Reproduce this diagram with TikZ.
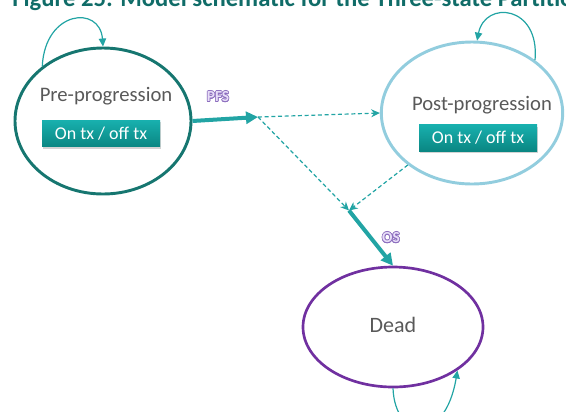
\documentclass[tikz,border=0pt]{standalone}
\usepackage{fontspec}
\setmainfont{Carlito}
\usepackage{contour}
\usetikzlibrary{arrows.meta,shapes.geometric,shadows}

\definecolor{titleteal}{RGB}{16,108,104}
\definecolor{flowteal}{RGB}{34,164,164}
\definecolor{preline}{RGB}{22,118,112}
\definecolor{postline}{RGB}{146,205,222}
\definecolor{deadline}{RGB}{112,48,160}
\definecolor{labelgray}{RGB}{89,89,89}
\definecolor{boxtop}{RGB}{24,176,174}
\definecolor{boxbottom}{RGB}{10,134,130}
\definecolor{tagfill}{RGB}{232,222,248}
\definecolor{tagline}{RGB}{140,110,190}

\contourlength{0.5pt}
\newcommand{\tagtext}[1]{\textcolor{tagfill}{\contour{tagline}{#1}}}

\begin{document}
\begin{tikzpicture}[x=0.75pt, y=-0.75pt,
    state/.style={ellipse, draw, line width=2.2pt, inner sep=0pt},
    statename/.style={text=labelgray, font=\fontsize{15.5}{18}\selectfont},
    txbox/.style={top color=boxtop, bottom color=boxbottom, text=white,
      minimum width=88.5pt, minimum height=20pt, inner sep=0pt,
      font=\fontsize{13.5}{16}\selectfont,
      drop shadow={opacity=0.35, shadow xshift=0.6pt, shadow yshift=-1.4pt}},
    flow/.style={flowteal, line width=3pt, -{Triangle[length=9pt,width=9pt]}},
    split/.style={flowteal, line width=0.9pt, dash pattern=on 3pt off 2pt,
      -{Stealth[length=6.5pt,width=6pt]}},
    stay/.style={flowteal, line width=0.9pt, -{Triangle[length=6pt,width=5.5pt]}},
    tag/.style={font=\fontsize{11.5}{13}\selectfont\bfseries}]
  \useasboundingbox (0,0) rectangle (566,411);

  % caption line, only its lower part is on the page
  \node (title) [anchor=base west, inner sep=0pt, text=titleteal,
    font=\fontsize{18.5}{22}\selectfont\bfseries] at (12,6.5)
    {Figure 25: Model schematic for the Three-state Partitioned};

  % health states
  \node (pre) [state, draw=preline, minimum width=132pt, minimum height=109.5pt] at (103,121) {};
  \node (post) [state, draw=postline, minimum width=136pt, minimum height=106.5pt] at (472,113) {};
  \node (dead) [state, draw=deadline, line width=2pt, minimum width=135pt, minimum height=90pt] at (393,327) {};

  \node (prename) [statename] at (106,96) {Pre-progression};
  \node (prebox) [txbox] at (101,133.5) {On tx / off tx};
  \node (postname) [statename] at (482,105) {Post-progression};
  \node (postbox) [txbox] at (478,138) {On tx / off tx};
  \node (deadname) [text=labelgray, font=\fontsize{16.5}{19}\selectfont] at (393,325) {Dead};

  % branching points
  \coordinate (fork) at (258,117);
  \coordinate (join) at (349,210.5);

  % transitions
  \draw [flow] (pre.east) -- (fork);
  \draw [split] (fork) -- (post.west);
  \draw [split] (fork) -- (join);
  \draw [split] (post.219) -- (join);
  \draw [flow] (join) -- (dead.north);

  \node (pfs) [tag] at (218,97) {\tagtext{PFS}};
  \node (os) [tag] at (391,238) {\tagtext{OS}};

  % staying in the same state
  \draw [stay] (pre.138) .. controls (45,10) and (100,5) .. (pre.north);
  \draw [stay] (post.40) .. controls (540,5) and (485,0) .. (post.86);
  \draw [stay] (dead.south) .. controls (395,440) and (445,445) .. (dead.-34);
\end{tikzpicture}
\end{document}
